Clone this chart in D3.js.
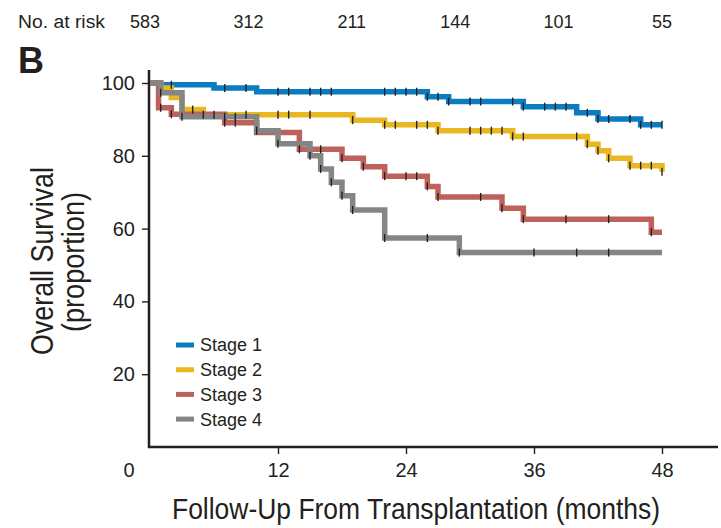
<!DOCTYPE html>
<html lang="en">
<head>
<meta charset="UTF-8">
<title>Overall survival by stage</title>
<script src="https://d3js.org/d3.v7.min.js"></script>
<style>
  body { margin: 0; background: #fff; }
  text { fill: #231f20; font-family: "Liberation Sans", Arial, sans-serif; }
</style>
</head>
<body>
<div id="chart"></div>
<script>
// data
const stages = ["Stage 1", "Stage 2", "Stage 3", "Stage 4"];
const colors = ["#0b7bc2", "#e9b821", "#bf615b", "#858585"];
const xTicks = [12, 24, 36, 48];
const yTicks = [20, 40, 60, 80, 100];
const atRisk = [583, 312, 211, 144, 101, 55];

// [month, survival %] at each step
const stage1Steps = [[0, 100], [1, 99.5], [6, 98.6], [10, 97.6], [26, 96.2], [28, 94.9], [35, 93.5], [40, 91.8], [42, 90.1], [46, 88.5], [48, 88.5]];
const stage2Steps = [[0, 100], [1, 98.6], [2, 96.0], [3, 92.7], [5, 91.3], [19, 89.8], [22, 88.5], [27, 86.9], [34, 85.3], [41, 83.2], [42, 81.4], [43, 79.3], [45, 77.3], [48, 75.6]];
const stage3Steps = [[0, 100], [0.8, 93.2], [2, 91.4], [7, 89.1], [10, 86.4], [14, 81.8], [18, 79.3], [20, 77.0], [22, 74.4], [26, 71.6], [27, 68.7], [33, 65.6], [35, 62.6], [47, 59.0], [48, 59.0]];
const stage4Steps = [[0, 100], [1, 97.3], [3, 90.7], [10, 86.9], [12, 83.3], [15, 80.0], [16, 76.4], [17, 72.7], [18, 69.0], [19, 65.1], [22, 57.4], [29, 53.4], [48, 53.4]];

// censoring marks (months)
const stage1Censor = [2, 7, 9, 12, 13, 15, 16, 17, 22, 23, 24, 25, 26, 27, 28, 30, 31, 34, 35, 37, 38, 39, 41, 42, 43, 45, 46, 47, 48];
const stage2Censor = [4, 5, 6, 9, 12, 13, 15, 19, 22, 23, 25, 26, 27, 30, 31, 32, 33, 34, 35, 40, 41, 42, 43, 45, 46, 47, 48];
const stage3Censor = [1, 2, 7, 8, 14, 16, 18, 20, 22, 24, 25, 26, 27, 31, 33, 35, 39, 43, 47];
const stage4Censor = [1, 3, 7, 8, 10, 12, 15, 16, 17, 18, 19, 22, 26, 29, 36, 40, 43];

const steps = [stage1Steps, stage2Steps, stage3Steps, stage4Steps];
const censors = [stage1Censor, stage2Censor, stage3Censor, stage4Censor];

const W = 721, H = 528;
const svg = d3.select("#chart").append("svg")
  .attr("width", W)
  .attr("height", H);

const x = d3.scaleLinear().domain([0, 48]).range([150, 662]);
const y = d3.scaleLinear().domain([0, 100]).range([447, 83]);

// panel letter
svg.append("text")
  .attr("x", 18).attr("y", 73)
  .style("font-size", "36px").style("font-weight", "bold")
  .text("B");

// number at risk row
svg.append("text")
  .attr("x", 18).attr("y", 28)
  .attr("textLength", 87).attr("lengthAdjust", "spacingAndGlyphs")
  .style("font-size", "18px")
  .text("No. at risk");

const riskX = d3.scalePoint().domain(d3.range(atRisk.length)).range([x(0) - 5, x(48)]);
svg.selectAll("text.risk")
  .data(atRisk)
  .enter()
  .append("text")
  .attr("class", "risk")
  .attr("x", (d, i) => riskX(i))
  .attr("y", 28)
  .attr("text-anchor", "middle")
  .style("font-size", "18px")
  .text(d => d);

// axes
const yAxis = d3.axisLeft(y).tickValues(yTicks).tickSize(7).tickPadding(7).tickSizeOuter(0);
const xAxis = d3.axisBottom(x).tickValues(xTicks).tickSize(7).tickPadding(9).tickSizeOuter(0);

const gy = svg.append("g")
  .attr("transform", "translate(149,0)")
  .call(yAxis);
const gx = svg.append("g")
  .attr("transform", "translate(0,447)")
  .call(xAxis);

[gx, gy].forEach(g => {
  g.select(".domain").remove();
  g.selectAll(".tick line").attr("stroke", "#231f20").attr("stroke-width", 1.4);
  g.selectAll(".tick text")
    .style("font-size", "20px")
    .style("font-family", "'Liberation Sans', Arial, sans-serif")
    .attr("fill", "#231f20");
});

// origin label
svg.append("text")
  .attr("x", 129).attr("y", 477)
  .attr("text-anchor", "middle")
  .style("font-size", "20px")
  .text("0");

svg.append("line")
  .attr("x1", 149).attr("x2", 149)
  .attr("y1", 70).attr("y2", 448)
  .attr("stroke", "#231f20").attr("stroke-width", 2.5);
svg.append("line")
  .attr("x1", 148).attr("x2", 718)
  .attr("y1", 447).attr("y2", 447)
  .attr("stroke", "#231f20").attr("stroke-width", 2.5);

// axis titles
svg.append("text")
  .attr("x", 416).attr("y", 519)
  .attr("text-anchor", "middle")
  .attr("textLength", 488).attr("lengthAdjust", "spacingAndGlyphs")
  .style("font-size", "29px")
  .text("Follow-Up From Transplantation (months)");

svg.append("text")
  .attr("transform", "translate(53,261) rotate(-90)")
  .attr("text-anchor", "middle")
  .attr("textLength", 188).attr("lengthAdjust", "spacingAndGlyphs")
  .style("font-size", "31px")
  .text("Overall Survival");
svg.append("text")
  .attr("transform", "translate(84,262) rotate(-90)")
  .attr("text-anchor", "middle")
  .attr("textLength", 140).attr("lengthAdjust", "spacingAndGlyphs")
  .style("font-size", "31px")
  .text("(proportion)");

// survival curves
const line = d3.line()
  .x(d => x(d[0]))
  .y(d => y(d[1]))
  .curve(d3.curveStepAfter);

const valueAt = (s, t) => {
  let v = s[0][1];
  s.forEach(p => { if (p[0] <= t) v = p[1]; });
  return v;
};

steps.forEach((s, i) => {
  svg.append("path")
    .datum(s)
    .attr("d", line)
    .attr("fill", "none")
    .attr("stroke", colors[i])
    .attr("stroke-width", 5.5);
});

steps.forEach((s, i) => {
  svg.append("g")
    .selectAll("line")
    .data(censors[i])
    .enter()
    .append("line")
    .attr("x1", d => x(d)).attr("x2", d => x(d))
    .attr("y1", d => y(valueAt(s, d)) - 4)
    .attr("y2", d => y(valueAt(s, d)) + 4)
    .attr("stroke", "#222")
    .attr("stroke-width", 1.4);
});

// legend
const legend = svg.append("g")
  .selectAll("g")
  .data(stages)
  .enter()
  .append("g")
  .attr("transform", (d, i) => `translate(176,${345 + i * 24.7})`);

legend.append("rect")
  .attr("x", 0).attr("y", -2.5)
  .attr("width", 18).attr("height", 5)
  .attr("fill", (d, i) => colors[i]);

legend.append("text")
  .attr("x", 24).attr("y", 0)
  .attr("dy", "0.36em")
  .style("font-size", "18px")
  .text(d => d);
</script>
</body>
</html>
